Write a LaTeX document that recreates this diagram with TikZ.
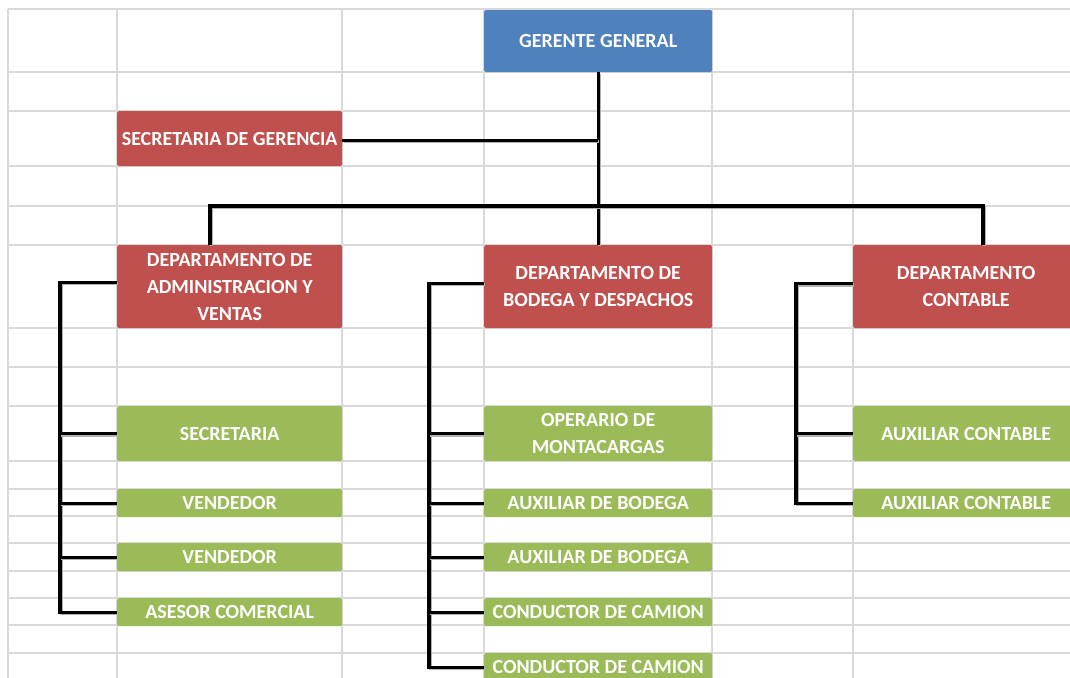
\documentclass[tikz,border=0pt]{standalone}
\usepackage{fontspec}
\setmainfont{Carlito}
\definecolor{gblue}{HTML}{4F81BD}
\definecolor{gred}{HTML}{C0504D}
\definecolor{ggreen}{HTML}{9BBB59}
\definecolor{gridgray}{HTML}{D9D9D9}
\begin{document}
\begin{tikzpicture}[x=1pt,y=-1pt,
  box/.style={anchor=north west, inner sep=0pt, rounded corners=1.5pt,
    text=white, font=\fontsize{20}{27}\selectfont\bfseries, align=center},
  bluebox/.style={box, fill=gblue},
  redbox/.style={box, fill=gred},
  greenbox/.style={box, fill=ggreen},
  link/.style={line width=3.4pt, black, line cap=butt,
    preaction={draw=black!30, line width=3.4pt, transform canvas={shift={(1.2pt,-1.2pt)}}}},
  gridline/.style={gridgray, line width=1.4pt}]
\useasboundingbox (0,0) rectangle (1070,677);
\clip (0,0) rectangle (1070,677);
% spreadsheet grid
\foreach \gx in {8,117,342,484,712,853}
  \draw[gridline] (\gx,9) -- (\gx,680);
\foreach \gy in {9,72,111,166,206,245,328,367,406,461,489,516,543,571,598,625,653}
  \draw[gridline] (8,\gy) -- (1075,\gy);
% boxes
\node[bluebox, minimum width=228pt, minimum height=62pt] (gg) at (484,10) {GERENTE GENERAL};
\node[redbox, minimum width=225pt, minimum height=55pt] (sg) at (117,111) {SECRETARIA DE GERENCIA};
\node[redbox, minimum width=225pt, minimum height=83pt] (da) at (117,245) {DEPARTAMENTO DE\\ADMINISTRACION Y\\VENTAS};
\node[redbox, minimum width=228pt, minimum height=83pt] (db) at (484,245) {DEPARTAMENTO DE\\BODEGA Y DESPACHOS};
\node[redbox, minimum width=226pt, minimum height=83pt] (dc) at (853,245) {DEPARTAMENTO\\CONTABLE};
% admin
\node[greenbox, minimum width=225pt, minimum height=55pt] (a1) at (117,406) {SECRETARIA};
\node[greenbox, minimum width=225pt, minimum height=28pt] (a2) at (117,489) {VENDEDOR};
\node[greenbox, minimum width=225pt, minimum height=28pt] (a3) at (117,543) {VENDEDOR};
\node[greenbox, minimum width=225pt, minimum height=28pt] (a4) at (117,598) {ASESOR COMERCIAL};
% bodega
\node[greenbox, minimum width=228pt, minimum height=55pt] (b1) at (484,406) {OPERARIO DE\\MONTACARGAS};
\node[greenbox, minimum width=228pt, minimum height=28pt] (b2) at (484,489) {AUXILIAR DE BODEGA};
\node[greenbox, minimum width=228pt, minimum height=28pt] (b3) at (484,543) {AUXILIAR DE BODEGA};
\node[greenbox, minimum width=228pt, minimum height=28pt] (b4) at (484,598) {CONDUCTOR DE CAMION};
\node[greenbox, minimum width=228pt, minimum height=28pt] (b5) at (484,653) {CONDUCTOR DE CAMION};
% contable
\node[greenbox, minimum width=226pt, minimum height=55pt] (c1) at (853,406) {AUXILIAR CONTABLE};
\node[greenbox, minimum width=226pt, minimum height=28pt] (c2) at (853,489) {AUXILIAR CONTABLE};
% bus coordinates
\coordinate (busL) at (210,206);
\coordinate (busR) at (983,206);
\coordinate (xa) at (60,0);
\coordinate (xb) at (429,0);
\coordinate (xc) at (796,0);
% top connectors
\draw[link] (gg.south) -- (db.north);
\draw[link] ([yshift=-1.5pt]sg.east) -- ([yshift=-1.5pt]sg.east -| gg.south);
\draw[link] (busL |- da.north) -- (busL) -- (busR) -- (busR |- dc.north);
% admin bracket
\draw[link] ([yshift=4.5pt]da.west) -- ([yshift=4.5pt]da.west -| xa) -- (a4.west -| xa) -- (a4.west);
\draw[link] (a1.west -| xa) -- (a1.west);
\draw[link] (a2.west -| xa) -- (a2.west);
\draw[link] (a3.west -| xa) -- (a3.west);
% bodega bracket
\draw[link] ([yshift=3.5pt]db.west) -- ([yshift=3.5pt]db.west -| xb) -- (b5.west -| xb) -- (b5.west);
\draw[link] (b1.west -| xb) -- (b1.west);
\draw[link] (b2.west -| xb) -- (b2.west);
\draw[link] (b3.west -| xb) -- (b3.west);
\draw[link] (b4.west -| xb) -- (b4.west);
% contable bracket
\draw[link] ([yshift=3pt]dc.west) -- ([yshift=3pt]dc.west -| xc) -- (c2.west -| xc) -- (c2.west);
\draw[link] (c1.west -| xc) -- (c1.west);
\end{tikzpicture}
\end{document}
